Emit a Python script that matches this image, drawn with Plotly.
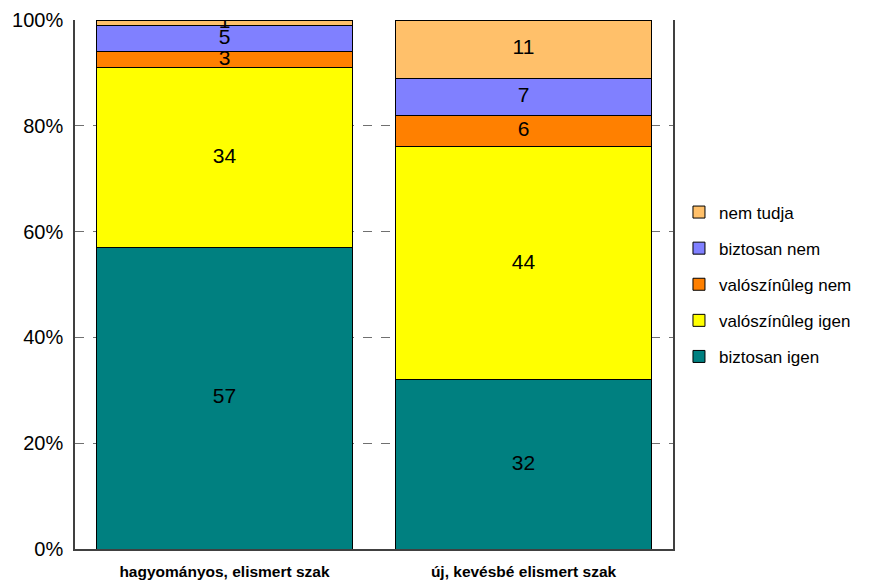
import plotly.graph_objects as go
import numpy as np

categories = ["hagyományos, elismert szak", "új, kevésbé elismert szak"]
series_names = ["biztosan igen", "valószínûleg igen", "valószínûleg nem", "biztosan nem", "nem tudja"]
biztosan_igen = [57, 32]
valoszinuleg_igen = [34, 44]
valoszinuleg_nem = [3, 6]
biztosan_nem = [5, 7]
nem_tudja = [1, 11]
series_values = [biztosan_igen, valoszinuleg_igen, valoszinuleg_nem, biztosan_nem, nem_tudja]
colors = ["#008080", "#FFFF00", "#FF8000", "#8080FF", "#FFC06A"]
y_ticks = [0, 20, 40, 60, 80, 100]
y_tick_labels = ["0%", "20%", "40%", "60%", "80%", "100%"]

FONT = "Liberation Sans, Arial, sans-serif"

fig = go.Figure()
n = len(series_names)
for i, (name, vals, col) in enumerate(zip(series_names, series_values, colors)):
    fig.add_trace(go.Bar(
        x=categories, y=vals, name=name, legendgroup=name, legendrank=n - i,
        marker=dict(color=col, line=dict(color="black", width=1)),
    ))

# centered labels
cum = np.zeros(len(categories))
for vals in series_values:
    v = np.array(vals, dtype=float)
    mids = cum + v / 2
    fig.add_trace(go.Scatter(
        x=categories, y=mids, mode="text", text=[str(int(a)) for a in v],
        textposition="middle center", showlegend=False, hoverinfo="skip",
        textfont=dict(family=FONT, size=21, color="black"),
    ))
    cum = cum + v

fig.update_layout(
    barmode="stack",
    bargap=0.147,
    width=869, height=584,
    margin=dict(l=75, r=196, t=20, b=35, autoexpand=False),
    plot_bgcolor="white", paper_bgcolor="white",
    font=dict(family=FONT, color="black"),
    showlegend=True,
    legend=dict(
        traceorder="grouped", x=1.01, xanchor="left", y=0.5, yanchor="middle",
        font=dict(family=FONT, size=17, color="black"),
        tracegroupgap=11, itemwidth=30,
    ),
    yaxis=dict(
        range=[0, 100], tickmode="array", tickvals=y_ticks, ticktext=y_tick_labels,
        showgrid=True, gridcolor="#707070", griddash="dash", gridwidth=1,
        showline=True, linecolor="#404040", linewidth=1.5, mirror=True,
        ticks="", tickfont=dict(family=FONT, size=20, color="black"),
        zeroline=False, ticklabelstandoff=6, automargin=False,
    ),
    xaxis=dict(
        showline=True, linecolor="#404040", linewidth=1.5,
        ticks="", tickfont=dict(family=FONT, size=15.5, color="black", weight="bold"),
        showgrid=False, automargin=False, ticklabelstandoff=8,
    ),
)

fig.write_html("out.html", config={"displayModeBar": False},
               post_script="document.body.style.margin='0';")
